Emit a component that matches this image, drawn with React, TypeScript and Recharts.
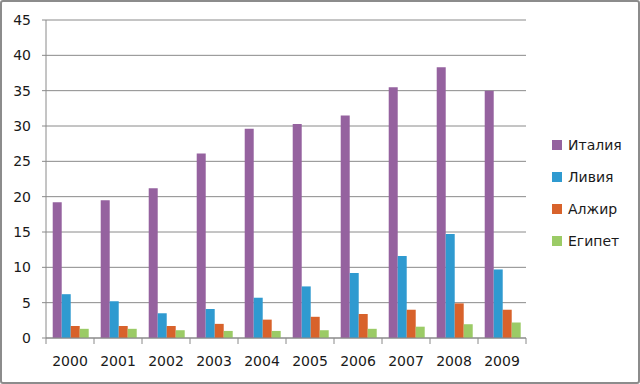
import { Bar, BarChart, CartesianGrid, XAxis, YAxis } from "recharts";

const years = ["2000", "2001", "2002", "2003", "2004", "2005", "2006", "2007", "2008", "2009"];
const italy = [19.2, 19.5, 21.2, 26.1, 29.6, 30.3, 31.5, 35.5, 38.3, 35.0];
const libya = [6.2, 5.2, 3.5, 4.1, 5.7, 7.3, 9.2, 11.6, 14.7, 9.7];
const algeria = [1.7, 1.7, 1.7, 2.0, 2.6, 3.0, 3.4, 4.0, 4.9, 4.0];
const egypt = [1.3, 1.3, 1.1, 1.0, 1.0, 1.1, 1.3, 1.6, 1.95, 2.2];
const yTicks = [0, 5, 10, 15, 20, 25, 30, 35, 40, 45];

const series = [
  { key: "italy", name: "Италия", color: "#95629F" },
  { key: "libya", name: "Ливия", color: "#2F9AD0" },
  { key: "algeria", name: "Алжир", color: "#D8622B" },
  { key: "egypt", name: "Египет", color: "#9BCB66" },
];

const data = years.map((year, i) => ({
  year,
  italy: italy[i],
  libya: libya[i],
  algeria: algeria[i],
  egypt: egypt[i],
}));

const FONT = "'DejaVu Sans', sans-serif";
const AXIS = "#8a8a8a";
const PLOT_LEFT = 46;
const PLOT_RIGHT = 526;
const BAND = (PLOT_RIGHT - PLOT_LEFT) / years.length;

function YearTick(props: any) {
  const { x, payload, index } = props;
  const top = 338;
  return (
    <g>
      <line x1={x - BAND / 2} y1={top} x2={x - BAND / 2} y2={top + 6} stroke={AXIS} />
      {index === years.length - 1 && (
        <line x1={x + BAND / 2} y1={top} x2={x + BAND / 2} y2={top + 6} stroke={AXIS} />
      )}
      <text x={x} y={366} textAnchor="middle" fontFamily={FONT} fontSize={14} fill="#1a1a1a">
        {payload.value}
      </text>
    </g>
  );
}

function LegendBox() {
  return (
    <div style={{ position: "absolute", left: 552, top: 129, fontFamily: FONT, fontSize: 14, color: "#1a1a1a" }}>
      {series.map((s) => (
        <div key={s.key} style={{ display: "flex", alignItems: "center", height: 32 }}>
          <span style={{ width: 10, height: 10, background: s.color, marginRight: 6 }} />
          <span>{s.name}</span>
        </div>
      ))}
    </div>
  );
}

export default function App() {
  return (
    <div
      style={{
        position: "absolute",
        left: 0,
        top: 0,
        width: 640,
        height: 384,
        background: "#fff",
        boxSizing: "border-box",
        border: "2px solid #8c8c8c",
        borderRadius: 3,
      }}
    >
      <div style={{ position: "absolute", left: -2, top: -2 }}>
        <BarChart
          width={640}
          height={384}
          data={data}
          margin={{ top: 20, right: 114, bottom: 0, left: 0 }}
          barCategoryGap="14%"
          barGap={0}
        >
          <CartesianGrid vertical={false} stroke={AXIS} strokeWidth={1} />
          <XAxis
            dataKey="year"
            height={46}
            axisLine={{ stroke: AXIS }}
            tickLine={false}
            tick={<YearTick />}
            interval={0}
          />
          <YAxis
            width={46}
            domain={[0, 45]}
            ticks={yTicks}
            axisLine={{ stroke: AXIS }}
            tickLine={{ stroke: AXIS }}
            tickSize={4}
            tickMargin={11}
            tick={{ fontFamily: FONT, fontSize: 14, fill: "#1a1a1a" }}
            interval={0}
          />
          {series.map((s) => (
            <Bar key={s.key} dataKey={s.key} name={s.name} fill={s.color} isAnimationActive={false} />
          ))}
        </BarChart>
        <LegendBox />
      </div>
    </div>
  );
}
